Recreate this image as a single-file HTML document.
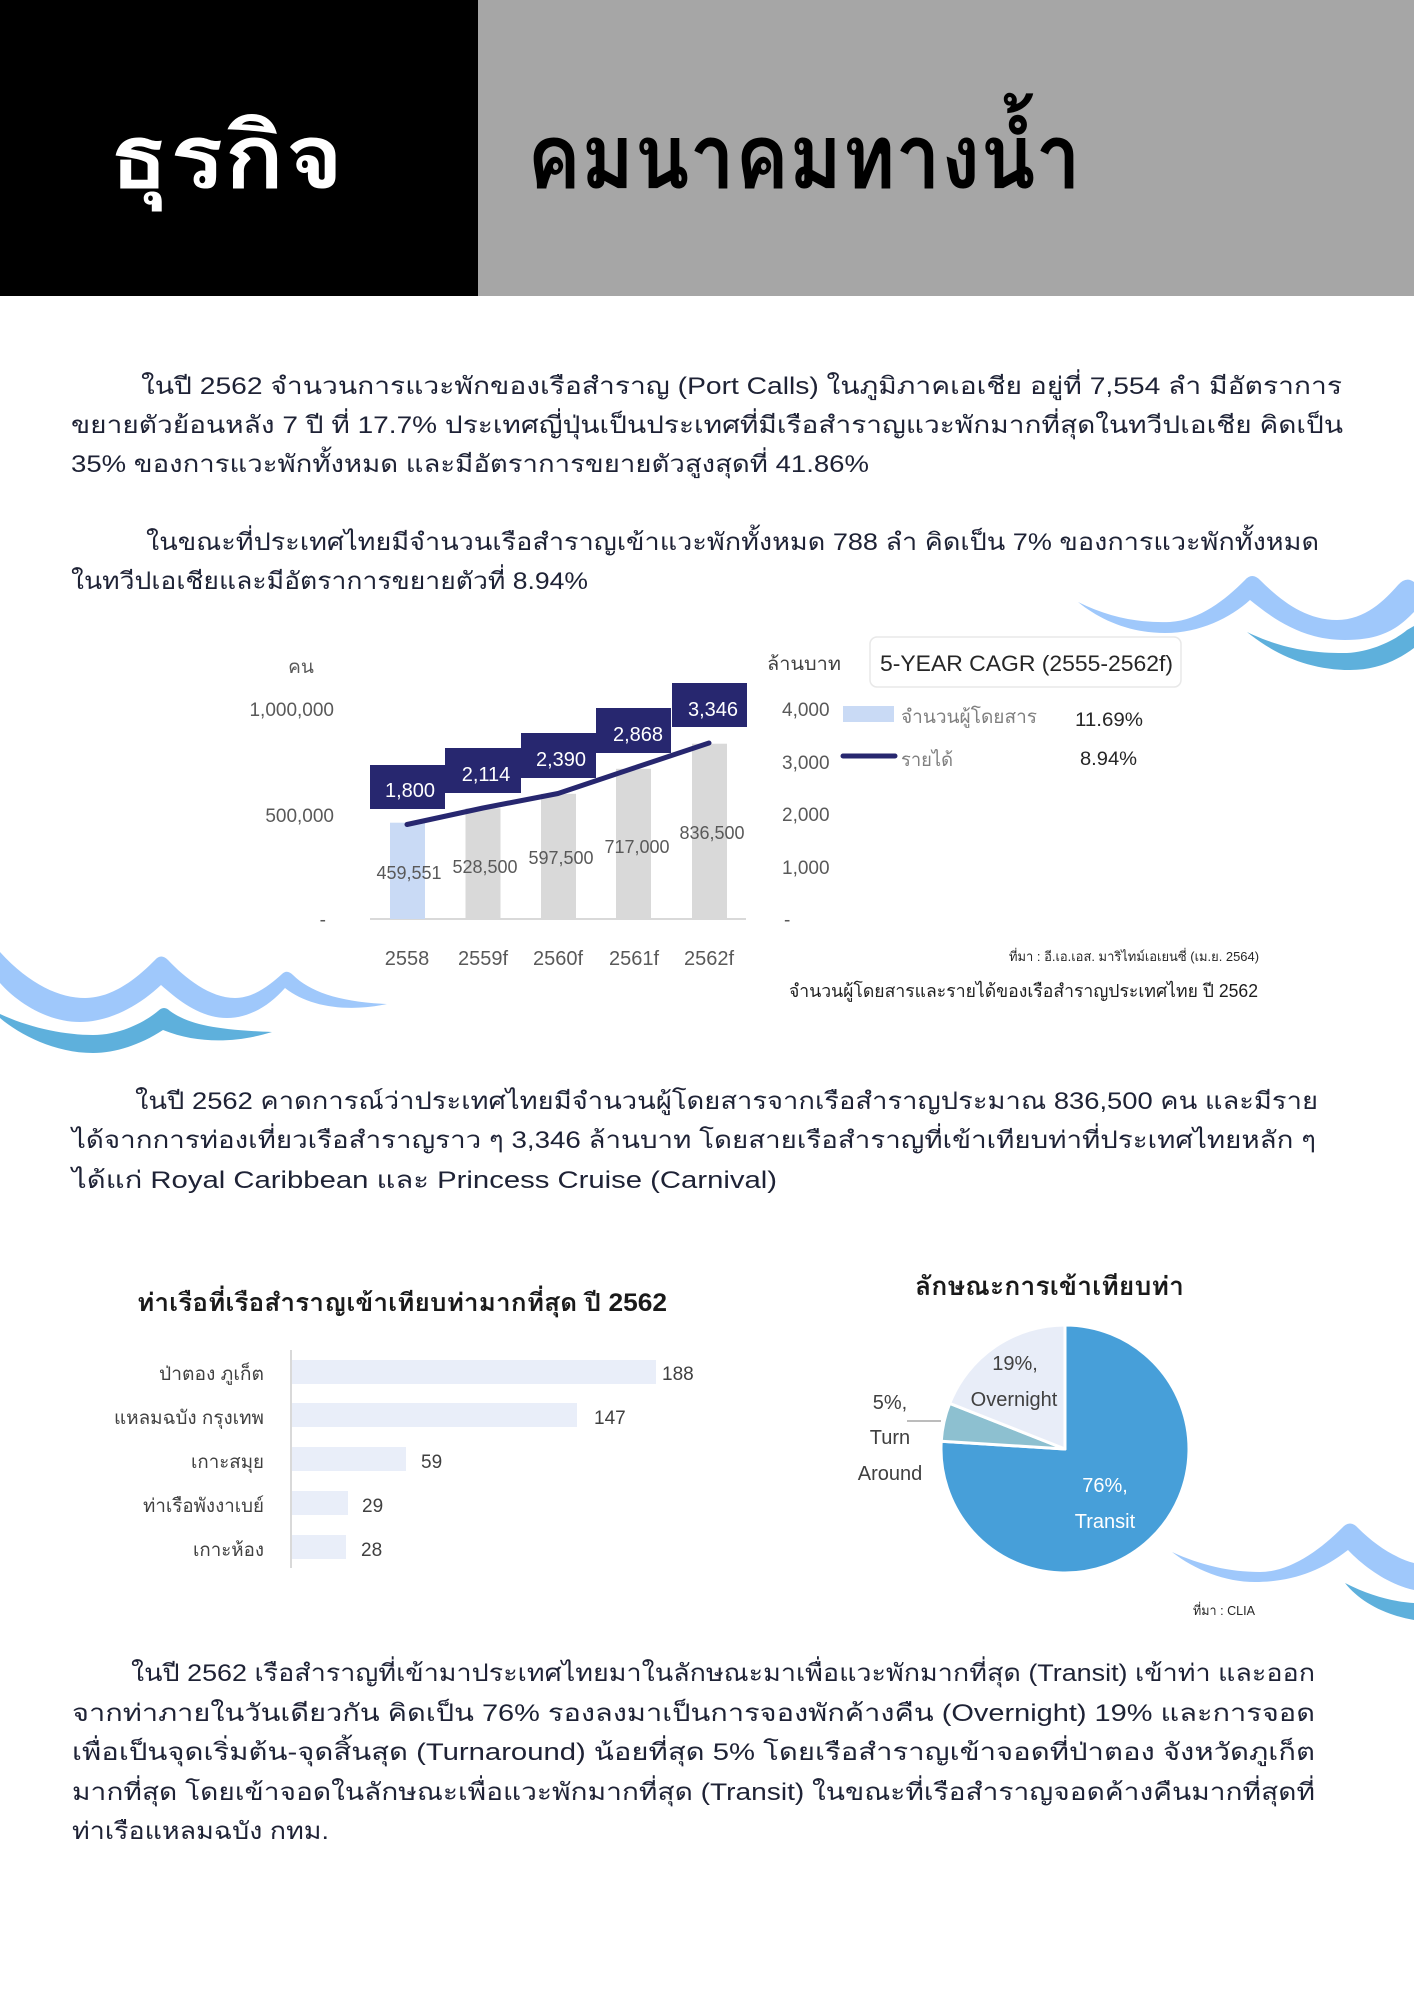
<!DOCTYPE html>
<html><head><meta charset="utf-8">
<style>
html,body{margin:0;padding:0;background:#fff;}
body{width:1414px;height:2000px;overflow:hidden;}
svg{display:block;}
text{font-family:"Liberation Sans","Loma","Garuda","Noto Sans Thai","Tlwg Typist",sans-serif;}
.p{font-size:24px;fill:#1e2235;}
.ax{font-size:19px;fill:#595959;}
</style></head>
<body>
<svg width="1414" height="2000" viewBox="0 0 1414 2000" xmlns="http://www.w3.org/2000/svg">
<!-- Header -->
<rect x="0" y="0" width="478" height="296" fill="#000"/>
<rect x="478" y="0" width="936" height="296" fill="#a6a6a6"/>
<text x="108" y="188" font-size="90" font-weight="bold" fill="#fff" textLength="236" lengthAdjust="spacingAndGlyphs">ธุรกิจ</text>
<text x="527" y="188" font-size="90" font-weight="bold" fill="#000" textLength="554" lengthAdjust="spacingAndGlyphs">คมนาคมทางน้ำ</text>

<!-- Paragraph 1 -->
<text class="p" x="141" y="394" textLength="1201" lengthAdjust="spacingAndGlyphs">ในปี 2562 จำนวนการแวะพักของเรือสำราญ (Port Calls) ในภูมิภาคเอเชีย อยู่ที่ 7,554 ลำ มีอัตราการ</text>
<text class="p" x="71" y="433" textLength="1272" lengthAdjust="spacingAndGlyphs">ขยายตัวย้อนหลัง 7 ปี ที่ 17.7% ประเทศญี่ปุ่นเป็นประเทศที่มีเรือสำราญแวะพักมากที่สุดในทวีปเอเชีย คิดเป็น</text>
<text class="p" x="71" y="472" textLength="798" lengthAdjust="spacingAndGlyphs">35% ของการแวะพักทั้งหมด และมีอัตราการขยายตัวสูงสุดที่ 41.86%</text>

<!-- Paragraph 2 -->
<text class="p" x="146" y="550" textLength="1173" lengthAdjust="spacingAndGlyphs">ในขณะที่ประเทศไทยมีจำนวนเรือสำราญเข้าแวะพักทั้งหมด 788 ลำ คิดเป็น 7% ของการแวะพักทั้งหมด</text>
<text class="p" x="71" y="589" textLength="517" lengthAdjust="spacingAndGlyphs">ในทวีปเอเชียและมีอัตราการขยายตัวที่ 8.94%</text>

<!-- Waves top right -->
<path d="M1078,602 C1110,618 1140,623 1170,622 C1200,620 1225,600 1245,580 Q1252,572 1260,580 C1280,600 1305,620 1337,620 C1365,620 1385,600 1398,585 Q1406,576 1414,582 L1414,612 C1400,626 1385,640 1345,640 C1300,640 1270,616 1250,600 C1230,618 1200,633 1165,633 C1130,633 1100,620 1078,602 Z" fill="#9fc8fb"/>
<path d="M1247,632 C1280,648 1310,653 1343,653 C1370,653 1395,640 1407,630 L1414,626 L1414,648 C1395,662 1375,670 1350,670 C1310,670 1275,655 1247,632 Z" fill="#5eb0dc"/>

<!-- Waves left -->
<path d="M0,952 C30,985 60,998 85,998 C115,998 140,975 155,960 Q161,953 168,960 C185,978 210,998 235,998 C255,998 272,983 282,974 Q287,969 293,975 C310,992 340,1002 387,1004 C350,1012 310,1008 285,988 C270,1005 250,1018 227,1018 C200,1018 178,1000 161,985 C140,1005 110,1022 80,1022 C45,1022 15,1000 0,983 Z" fill="#9fc8fb"/>
<path d="M0,1014 C30,1028 65,1035 93,1035 C120,1035 145,1022 158,1011 Q164,1005 170,1011 C188,1024 215,1030 272,1032 C240,1042 200,1045 163,1030 C140,1045 115,1053 93,1053 C55,1053 20,1035 0,1018 Z" fill="#5eb0dc"/>

<!-- Chart 1 -->
<text class="ax" x="301" y="673" text-anchor="middle" fill="#404040">คน</text>
<text class="ax" x="334" y="716" text-anchor="end">1,000,000</text>
<text class="ax" x="334" y="822" text-anchor="end">500,000</text>
<text class="ax" x="326" y="926" text-anchor="end">-</text>
<line x1="370" y1="919" x2="746" y2="919" stroke="#d9d9d9" stroke-width="2"/>
<rect x="390" y="822.7" width="35" height="96.3" fill="#c9daf5"/>
<rect x="465.5" y="808.3" width="35" height="110.7" fill="#d9d9d9"/>
<rect x="541" y="793.8" width="35" height="125.2" fill="#d9d9d9"/>
<rect x="616" y="768.8" width="35" height="150.2" fill="#d9d9d9"/>
<rect x="692" y="743.7" width="35" height="175.3" fill="#d9d9d9"/>
<g font-size="18" fill="#595959" text-anchor="middle">
<text x="409" y="879">459,551</text>
<text x="485" y="873">528,500</text>
<text x="561" y="864">597,500</text>
<text x="637" y="853">717,000</text>
<text x="712" y="839">836,500</text>
</g>
<g fill="#27276f">
<rect x="370" y="765" width="75" height="44"/>
<rect x="445" y="748" width="76" height="45"/>
<rect x="521" y="733" width="75" height="45"/>
<rect x="596" y="708" width="75" height="45"/>
<rect x="672" y="683" width="75" height="44"/>
</g>
<g font-size="20" fill="#fff" text-anchor="middle">
<text x="410" y="797">1,800</text>
<text x="486" y="781">2,114</text>
<text x="561" y="766">2,390</text>
<text x="638" y="741">2,868</text>
<text x="713" y="716">3,346</text>
</g>
<polyline points="407,824.5 483,808 558,793.5 634,768 709,743" fill="none" stroke="#27276f" stroke-width="5" stroke-linecap="round" stroke-linejoin="round"/>
<g font-size="20" fill="#595959" text-anchor="middle">
<text x="407" y="965">2558</text>
<text x="483" y="965">2559f</text>
<text x="558" y="965">2560f</text>
<text x="634" y="965">2561f</text>
<text x="709" y="965">2562f</text>
</g>
<!-- right axis -->
<text class="ax" x="782" y="716">4,000</text>
<text class="ax" x="782" y="769">3,000</text>
<text class="ax" x="782" y="821">2,000</text>
<text class="ax" x="782" y="874">1,000</text>
<text class="ax" x="784" y="926">-</text>
<text x="767" y="670" font-size="19" fill="#404040" textLength="74" lengthAdjust="spacingAndGlyphs">ล้านบาท</text>
<rect x="870" y="637" width="311" height="50" rx="7" fill="#fff" stroke="#e8e8e8" stroke-width="1.5"/>
<text x="880" y="671" font-size="22" fill="#262626" textLength="293" lengthAdjust="spacingAndGlyphs">5-YEAR CAGR (2555-2562f)</text>
<rect x="843" y="706" width="51" height="16" fill="#c9daf5"/>
<text x="901" y="723" font-size="19" fill="#7f7f7f" textLength="136" lengthAdjust="spacingAndGlyphs">จำนวนผู้โดยสาร</text>
<text x="1075" y="726" font-size="19" fill="#262626" textLength="68" lengthAdjust="spacingAndGlyphs">11.69%</text>
<line x1="843" y1="756" x2="895" y2="756" stroke="#27276f" stroke-width="5" stroke-linecap="round"/>
<text x="901" y="766" font-size="19" fill="#7f7f7f" textLength="52" lengthAdjust="spacingAndGlyphs">รายได้</text>
<text x="1080" y="765" font-size="19" fill="#262626" textLength="57" lengthAdjust="spacingAndGlyphs">8.94%</text>
<text x="1009" y="961" font-size="13" fill="#262626" textLength="250" lengthAdjust="spacingAndGlyphs">ที่มา : อี.เอ.เอส. มาริไทม์เอเยนซี่ (เม.ย. 2564)</text>
<text x="789" y="997" font-size="18" fill="#1e1e1e" textLength="469" lengthAdjust="spacingAndGlyphs">จำนวนผู้โดยสารและรายได้ของเรือสำราญประเทศไทย ปี 2562</text>

<!-- Paragraph 3 -->
<text class="p" x="135" y="1109" textLength="1183" lengthAdjust="spacingAndGlyphs">ในปี 2562 คาดการณ์ว่าประเทศไทยมีจำนวนผู้โดยสารจากเรือสำราญประมาณ 836,500 คน และมีราย</text>
<text class="p" x="72" y="1148" textLength="1244" lengthAdjust="spacingAndGlyphs">ได้จากการท่องเที่ยวเรือสำราญราว ๆ 3,346 ล้านบาท โดยสายเรือสำราญที่เข้าเทียบท่าที่ประเทศไทยหลัก ๆ</text>
<text class="p" x="72" y="1188" textLength="705" lengthAdjust="spacingAndGlyphs">ได้แก่ Royal Caribbean และ Princess Cruise (Carnival)</text>

<!-- Bar chart -->
<text x="137" y="1311" font-size="25" font-weight="bold" fill="#1a1a1a" textLength="530" lengthAdjust="spacingAndGlyphs">ท่าเรือที่เรือสำราญเข้าเทียบท่ามากที่สุด ปี 2562</text>
<line x1="291" y1="1350" x2="291" y2="1568" stroke="#d9d9d9" stroke-width="2"/>
<g fill="#e9eef9">
<rect x="292" y="1360" width="364" height="24"/>
<rect x="292" y="1403" width="285" height="24"/>
<rect x="292" y="1447" width="114" height="24"/>
<rect x="292" y="1491" width="56" height="24"/>
<rect x="292" y="1535" width="54" height="24"/>
</g>
<g font-size="19" fill="#404040">
<text x="662" y="1380">188</text>
<text x="594" y="1424">147</text>
<text x="421" y="1468">59</text>
<text x="362" y="1512">29</text>
<text x="361" y="1556">28</text>
</g>
<g font-size="19" fill="#404040">
<text x="159" y="1380" textLength="105" lengthAdjust="spacingAndGlyphs">ป่าตอง ภูเก็ต</text>
<text x="114" y="1424" textLength="150" lengthAdjust="spacingAndGlyphs">แหลมฉบัง กรุงเทพ</text>
<text x="191" y="1468" textLength="73" lengthAdjust="spacingAndGlyphs">เกาะสมุย</text>
<text x="143" y="1512" textLength="121" lengthAdjust="spacingAndGlyphs">ท่าเรือพังงาเบย์</text>
<text x="193" y="1556" textLength="71" lengthAdjust="spacingAndGlyphs">เกาะห้อง</text>
</g>

<!-- Pie chart -->
<text x="915" y="1295" font-size="26" font-weight="bold" fill="#1a1a1a" textLength="269" lengthAdjust="spacingAndGlyphs">ลักษณะการเข้าเทียบท่า</text>
<g stroke="#fff" stroke-width="3" stroke-linejoin="round">
<path d="M1065,1449 L1065,1325 A124,124 0 1 1 941.24,1441.21 Z" fill="#479fd9"/>
<path d="M1065,1449 L941.24,1441.21 A124,124 0 0 1 949.71,1403.35 Z" fill="#8dc0d0"/>
<path d="M1065,1449 L949.71,1403.35 A124,124 0 0 1 1065,1325 Z" fill="#e8edf8"/>
</g>
<g font-size="20" fill="#404040" text-anchor="middle">
<text x="1015" y="1370">19%,</text>
<text x="1014" y="1406">Overnight</text>
<text x="890" y="1409">5%,</text>
<text x="890" y="1444">Turn</text>
<text x="890" y="1480">Around</text>
</g>
<line x1="907" y1="1421" x2="941" y2="1421" stroke="#a6a6a6" stroke-width="1.5"/>
<g font-size="20" fill="#fff" text-anchor="middle">
<text x="1105" y="1492">76%,</text>
<text x="1105" y="1528">Transit</text>
</g>

<!-- Waves bottom right -->
<path d="M1172,1552 C1200,1565 1230,1572 1260,1572 C1290,1572 1320,1550 1342,1528 Q1350,1519 1358,1528 C1375,1545 1395,1558 1414,1563 L1414,1590 C1390,1585 1365,1568 1348,1550 C1320,1572 1290,1582 1255,1582 C1225,1582 1195,1570 1172,1552 Z" fill="#9fc8fb"/>
<path d="M1345,1583 C1370,1596 1395,1602 1414,1603 L1414,1620 C1385,1615 1360,1602 1345,1583 Z" fill="#5eb0dc"/>
<text x="1193" y="1615" font-size="13" fill="#262626" textLength="62" lengthAdjust="spacingAndGlyphs">ที่มา : CLIA</text>

<!-- Paragraph 4 -->
<text class="p" x="131" y="1681" textLength="1184" lengthAdjust="spacingAndGlyphs">ในปี 2562 เรือสำราญที่เข้ามาประเทศไทยมาในลักษณะมาเพื่อแวะพักมากที่สุด (Transit) เข้าท่า และออก</text>
<text class="p" x="72" y="1721" textLength="1243" lengthAdjust="spacingAndGlyphs">จากท่าภายในวันเดียวกัน คิดเป็น 76% รองลงมาเป็นการจองพักค้างคืน (Overnight) 19% และการจอด</text>
<text class="p" x="72" y="1760" textLength="1243" lengthAdjust="spacingAndGlyphs">เพื่อเป็นจุดเริ่มต้น-จุดสิ้นสุด (Turnaround) น้อยที่สุด 5% โดยเรือสำราญเข้าจอดที่ป่าตอง จังหวัดภูเก็ต</text>
<text class="p" x="72" y="1800" textLength="1243" lengthAdjust="spacingAndGlyphs">มากที่สุด โดยเข้าจอดในลักษณะเพื่อแวะพักมากที่สุด (Transit) ในขณะที่เรือสำราญจอดค้างคืนมากที่สุดที่</text>
<text class="p" x="72" y="1839" textLength="257" lengthAdjust="spacingAndGlyphs">ท่าเรือแหลมฉบัง กทม.</text>
</svg>
</body></html>
